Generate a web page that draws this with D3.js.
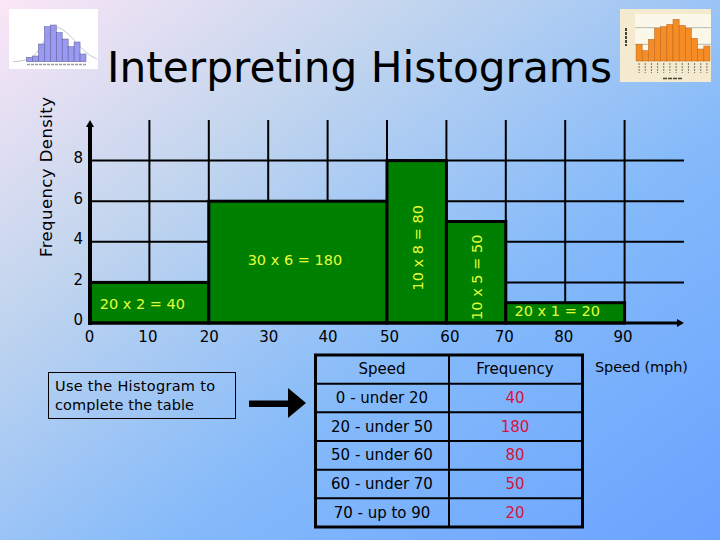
<!DOCTYPE html>
<html>
<head>
<meta charset="utf-8">
<script src="https://cdn.jsdelivr.net/npm/d3@7"></script>
<style>
    html, body { margin: 0; padding: 0; }
    svg { display: block; }
    text { font-family: "Comic Sans MS", "DejaVu Sans", sans-serif; fill: #000; }
</style>
</head>
<body>
<svg id="chart" width="720" height="540"></svg>
<script>
const titleText = "Interpreting Histograms";
const yTitle = "Frequency Density";
const xTitle = "Speed (mph)";
const note = ["Use the Histogram to", "complete the table"];

const binStart = [0, 20, 50, 60, 70];
const binEnd = [20, 50, 60, 70, 90];
const density = [2, 6, 8, 5, 1];
const barLabels = ["20 x 2 = 40", "30 x 6 = 180", "10 x 8 = 80", "10 x 5 = 50", "20 x 1 = 20"];

const xTicks = [0, 10, 20, 30, 40, 50, 60, 70, 80, 90];
const yTicks = [0, 2, 4, 6, 8];
const gridX = [10, 20, 30, 40, 50, 60, 70, 80, 90];
const gridY = [2, 4, 6, 8];

const tableHead = ["Speed", "Frequency"];
const speedClasses = ["0 - under 20", "20 - under 50", "50 - under 60", "60 - under 70", "70 - up to 90"];
const frequencies = [40, 180, 80, 50, 20];

// the two little pictures next to the title
const thumbBins = [13, 17, 53, 105, 110, 87, 68, 45, 59, 23];
const thumbCurve = [0, 2, 8, 28, 78, 108, 96, 74, 44, 20, 8];
const monthBars = [50, 31, 65, 98, 103, 110, 125, 107, 98, 68, 36, 45];

const svg = d3.select("#chart");

const defs = svg.append("defs");
const bg = defs.append("linearGradient").attr("id", "bg")
    .attr("x1", 0).attr("y1", 0).attr("x2", 1).attr("y2", 1);
bg.append("stop").attr("offset", "0%").attr("stop-color", "#fbe6f6");
bg.append("stop").attr("offset", "28%").attr("stop-color", "#c4d6ee");
bg.append("stop").attr("offset", "62%").attr("stop-color", "#84bafa");
bg.append("stop").attr("offset", "100%").attr("stop-color", "#6aa2ff");

svg.append("rect").attr("width", 720).attr("height", 540).attr("fill", "url(#bg)");

svg.append("text")
    .attr("x", 107).attr("y", 82)
    .attr("font-size", 42)
    .attr("textLength", 505)
    .attr("lengthAdjust", "spacingAndGlyphs")
    .text(titleText);

const xScale = d3.scaleLinear().domain([0, 100]).range([90, 684]);
const yScale = d3.scaleLinear().domain([0, 10]).range([323, 120]);

// grid
svg.selectAll(".grid-x")
    .data(gridX)
    .join("line")
    .attr("class", "grid-x")
    .attr("x1", d => xScale(d)).attr("x2", d => xScale(d))
    .attr("y1", yScale(10)).attr("y2", yScale(0))
    .attr("stroke", "#000").attr("stroke-width", 2);

svg.selectAll(".grid-y")
    .data(gridY)
    .join("line")
    .attr("class", "grid-y")
    .attr("x1", xScale(0)).attr("x2", xScale(100))
    .attr("y1", d => yScale(d)).attr("y2", d => yScale(d))
    .attr("stroke", "#000").attr("stroke-width", 2);

// bars
svg.selectAll(".bar")
    .data(density)
    .join("rect")
    .attr("class", "bar")
    .attr("x", (d, i) => xScale(binStart[i]))
    .attr("y", d => yScale(d))
    .attr("width", (d, i) => xScale(binEnd[i]) - xScale(binStart[i]))
    .attr("height", d => yScale(0) - yScale(d))
    .attr("fill", "#008000")
    .attr("stroke", "#000")
    .attr("stroke-width", 3);

// bar labels, the narrow bars have theirs turned
const labelNudge = [[-7, 1], [-3, -2], [1, 6], [1, 5], [-8, -2]];
svg.selectAll(".bar-label")
    .data(barLabels)
    .join("text")
    .attr("class", "bar-label")
    .attr("text-anchor", "middle")
    .attr("dominant-baseline", "central")
    .attr("font-size", 14.5)
    .style("fill", "#e4ff38")
    .attr("transform", (d, i) => {
        const cx = (xScale(binStart[i]) + xScale(binEnd[i])) / 2 + labelNudge[i][0];
        const cy = yScale(density[i] / 2) + labelNudge[i][1];
        const turned = i === 2 || i === 3;
        return `translate(${cx}, ${cy})` + (turned ? " rotate(-90)" : "");
    })
    .text(d => d);

// axes
const xAxis = d3.axisBottom(xScale).tickValues(xTicks).tickSize(0).tickPadding(8);
const yAxis = d3.axisLeft(yScale).tickValues(yTicks).tickSize(0).tickPadding(7);

// tick labels in the original are hand placed, not quite under their lines
const xLabelNudge = [-1, -2, 0, 0, 0, 2, 3, -2, -2, -2];

const xG = svg.append("g")
    .attr("transform", `translate(0, ${yScale(0)})`)
    .call(xAxis);
xG.select(".domain").remove();
xG.selectAll("text")
    .attr("font-size", 15)
    .attr("dx", (d, i) => xLabelNudge[i])
    .style("fill", "#000");

const yG = svg.append("g")
    .attr("transform", `translate(${xScale(0)}, -3)`)
    .call(yAxis);
yG.select(".domain").remove();
yG.selectAll("text").attr("font-size", 15).style("fill", "#000");

svg.append("line")
    .attr("x1", xScale(0)).attr("x2", xScale(0))
    .attr("y1", yScale(0) + 2).attr("y2", yScale(10) + 5)
    .attr("stroke", "#000").attr("stroke-width", 4);
svg.append("line")
    .attr("x1", xScale(0)).attr("x2", xScale(100) - 5)
    .attr("y1", yScale(0)).attr("y2", yScale(0))
    .attr("stroke", "#000").attr("stroke-width", 3);
svg.append("path")
    .attr("d", d3.line()([[xScale(0) - 4, yScale(10) + 7], [xScale(0), yScale(10)], [xScale(0) + 4, yScale(10) + 7]]) + "Z")
    .attr("fill", "#000");
svg.append("path")
    .attr("d", d3.line()([[xScale(100) - 7, yScale(0) - 4], [xScale(100), yScale(0)], [xScale(100) - 7, yScale(0) + 4]]) + "Z")
    .attr("fill", "#000");

svg.append("text")
    .attr("transform", "translate(52, 177) rotate(-90)")
    .attr("text-anchor", "middle")
    .attr("font-size", 16.5)
    .attr("textLength", 160)
    .text(yTitle);

svg.append("text")
    .attr("x", 595).attr("y", 372)
    .attr("font-size", 14.5)
    .attr("textLength", 93)
    .text(xTitle);

// note box and arrow
svg.append("rect")
    .attr("x", 48.5).attr("y", 372.5).attr("width", 187).attr("height", 46)
    .attr("fill", "none").attr("stroke", "#000").attr("stroke-width", 1);
svg.selectAll(".note")
    .data(note)
    .join("text")
    .attr("class", "note")
    .attr("x", 55)
    .attr("y", (d, i) => 391 + i * 19)
    .attr("font-size", 14.5)
    .attr("textLength", (d, i) => i === 0 ? 160 : 139)
    .text(d => d);

svg.append("path")
    .attr("d", "M249 400.5H288V388L306 403L288 418V407H249Z")
    .attr("fill", "#000");

// table
const rowScale = d3.scaleBand()
    .domain(d3.range(speedClasses.length + 1))
    .range([355, 527]);
const colScale = d3.scaleOrdinal().domain([0, 1]).range([382, 515]);

svg.append("rect")
    .attr("x", 315.5).attr("y", 355).attr("width", 267).attr("height", 172)
    .attr("fill", "none").attr("stroke", "#000").attr("stroke-width", 3);
svg.append("line")
    .attr("x1", 449).attr("x2", 449).attr("y1", 355).attr("y2", 527)
    .attr("stroke", "#000").attr("stroke-width", 2);
svg.selectAll(".row-line")
    .data(d3.range(1, speedClasses.length + 1))
    .join("line")
    .attr("class", "row-line")
    .attr("x1", 315).attr("x2", 583)
    .attr("y1", d => rowScale(d)).attr("y2", d => rowScale(d))
    .attr("stroke", "#000").attr("stroke-width", 2);

const rowMid = i => rowScale(i) + rowScale.bandwidth() / 2;

svg.selectAll(".head")
    .data(tableHead)
    .join("text")
    .attr("class", "head")
    .attr("x", (d, i) => colScale(i))
    .attr("y", rowMid(0))
    .attr("text-anchor", "middle")
    .attr("dominant-baseline", "central")
    .attr("font-size", 15)
    .text(d => d);

svg.selectAll(".speed")
    .data(speedClasses)
    .join("text")
    .attr("class", "speed")
    .attr("x", colScale(0))
    .attr("y", (d, i) => rowMid(i + 1))
    .attr("text-anchor", "middle")
    .attr("dominant-baseline", "central")
    .attr("font-size", 15)
    .text(d => d);

svg.selectAll(".freq")
    .data(frequencies)
    .join("text")
    .attr("class", "freq")
    .attr("x", colScale(1))
    .attr("y", (d, i) => rowMid(i + 1))
    .attr("text-anchor", "middle")
    .attr("dominant-baseline", "central")
    .attr("font-size", 15)
    .style("fill", "#d8123c")
    .text(d => d);

// left thumbnail
svg.append("rect").attr("x", 9).attr("y", 9).attr("width", 89).attr("height", 60).attr("fill", "#fff");
const thumbX = d3.scaleBand().domain(d3.range(thumbBins.length)).range([26.5, 86]);
const thumbY = d3.scaleLinear().domain([0, 120]).range([61.7, 21.7]);
svg.selectAll(".thumb-bar")
    .data(thumbBins)
    .join("rect")
    .attr("class", "thumb-bar")
    .attr("x", (d, i) => thumbX(i))
    .attr("y", d => thumbY(d))
    .attr("width", thumbX.bandwidth())
    .attr("height", d => thumbY(0) - thumbY(d))
    .attr("fill", "#9a9af5")
    .attr("stroke", "#55558a")
    .attr("stroke-width", 0.5);
const curveX = d3.scaleLinear().domain([0, thumbCurve.length - 1]).range([13, 97]);
svg.append("path")
    .attr("d", d3.line().x((d, i) => curveX(i)).y(d => thumbY(d)).curve(d3.curveBasis)(thumbCurve))
    .attr("fill", "none").attr("stroke", "#8888aa").attr("stroke-width", 0.5);
svg.append("line")
    .attr("x1", 27).attr("x2", 86).attr("y1", 64.5).attr("y2", 64.5)
    .attr("stroke", "#99a").attr("stroke-width", 1.5).attr("stroke-dasharray", "3 1");

// right thumbnail
svg.append("rect").attr("x", 620).attr("y", 9).attr("width", 91).attr("height", 73).attr("fill", "#f3ead0");
svg.append("rect").attr("x", 635).attr("y", 14).attr("width", 76).attr("height", 47).attr("fill", "#fbf8ea");
const monthX = d3.scaleBand().domain(d3.range(monthBars.length)).range([636, 710]);
const monthY = d3.scaleLinear().domain([0, 150]).range([61, 11]);
svg.selectAll(".month-grid")
    .data([50, 100])
    .join("line")
    .attr("class", "month-grid")
    .attr("x1", 635).attr("x2", 711)
    .attr("y1", d => monthY(d)).attr("y2", d => monthY(d))
    .attr("stroke", "#999").attr("stroke-width", 0.7);
svg.selectAll(".month-bar")
    .data(monthBars)
    .join("rect")
    .attr("class", "month-bar")
    .attr("x", (d, i) => monthX(i))
    .attr("y", d => monthY(d))
    .attr("width", monthX.bandwidth())
    .attr("height", d => monthY(0) - monthY(d))
    .attr("fill", "#f58c26")
    .attr("stroke", "#b9651a")
    .attr("stroke-width", 0.5);
svg.selectAll(".month-tick")
    .data(monthBars)
    .join("line")
    .attr("class", "month-tick")
    .attr("x1", (d, i) => monthX(i) + monthX.bandwidth() / 2)
    .attr("x2", (d, i) => monthX(i) + monthX.bandwidth() / 2)
    .attr("y1", 63).attr("y2", 73)
    .attr("stroke", "#776").attr("stroke-width", 1).attr("stroke-dasharray", "2 1");
svg.append("line")
    .attr("x1", 663).attr("x2", 683).attr("y1", 78.5).attr("y2", 78.5)
    .attr("stroke", "#443").attr("stroke-width", 1.5).attr("stroke-dasharray", "4 1");
svg.append("line")
    .attr("x1", 626).attr("x2", 626).attr("y1", 28).attr("y2", 46)
    .attr("stroke", "#443").attr("stroke-width", 2).attr("stroke-dasharray", "3 1");
</script>
</body>
</html>
